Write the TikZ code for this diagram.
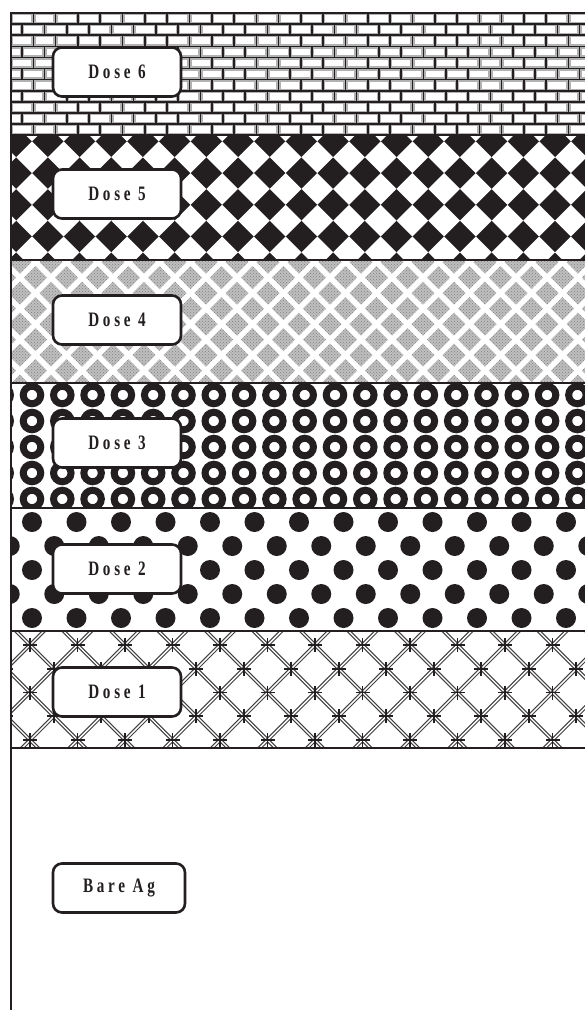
\documentclass[tikz,border=0pt]{standalone}
\usepackage{fontspec}
\usetikzlibrary{patterns}
\setmainfont{Liberation Serif}[FakeStretch=0.74, LetterSpace=18]
\definecolor{ink}{HTML}{231F20}
\tikzset{
  dosebox/.style={draw=ink, line width=2.6pt, rounded corners=9pt, fill=white,
    minimum width=128pt, minimum height=49pt, inner sep=0pt, text=ink,
    font=\fontsize{20.5}{20.5}\selectfont\bfseries},
  bandline/.style={draw=ink, line width=1.5pt}
}
\begin{document}
\begin{tikzpicture}[x=1pt, y=-1pt]
        \useasboundingbox (0,0) rectangle (585,1010);

        % Coordinates
        \coordinate (A) at (11, 13);
        \coordinate (B) at (585, 135);
        \coordinate (C) at (11, 135);
        \coordinate (D) at (585, 260);
        \coordinate (E) at (11, 260);
        \coordinate (F) at (585, 383);
        \coordinate (G) at (11, 383);
        \coordinate (H) at (585, 508);
        \coordinate (I) at (11, 508);
        \coordinate (J) at (585, 631);
        \coordinate (K) at (11, 631);
        \coordinate (L) at (585, 748);
        \coordinate (M) at (11, 1010);

        % Dose 6: bricks
        \begin{scope}
          \clip (A) rectangle (B);
          \fill[ink] (A) rectangle (B);
          \foreach \j [evaluate=\j as \off using {mod(\j,2)*11.15}] in {0,...,10}
            \foreach \i in {-1,...,26}
              \draw[fill=white, draw=gray!60, line width=1.4pt]
                ({11+\off+\i*22.3+1.5},{13+\j*11.1+1.5}) rectangle ++(19.3,8.1);
        \end{scope}

        % Dose 5: checker diamonds
        \begin{scope}
          \clip (C) rectangle (D);
          \fill[ink] (C) rectangle (D);
          \foreach \j in {0,...,4}
            \foreach \i in {0,...,19}
              \fill[white] ({0.3+\i*31.7-15.85},{125.5+\j*31.7})
                -- ++(15.85,-15.85) -- ++(15.85,15.85) -- ++(-15.85,15.85) -- cycle;
        \end{scope}

        % Dose 4: gray tiles
        \begin{scope}
          \clip (E) rectangle (F);
          \fill[white] (E) rectangle (F);
          \foreach \j [evaluate=\j as \off using {mod(\j,2)*15.5}] in {0,...,8}
            \foreach \i in {-1,...,19} {
              \fill[gray!50] ({20+\off+\i*31-11.5},{262+\j*15.5})
                -- ++(11.5,-11.5) -- ++(11.5,11.5) -- ++(-11.5,11.5) -- cycle;
              \fill[pattern=crosshatch dots, pattern color=gray]
                ({20+\off+\i*31-11.5},{262+\j*15.5})
                -- ++(11.5,-11.5) -- ++(11.5,11.5) -- ++(-11.5,11.5) -- cycle;
            }
        \end{scope}

        % Dose 3: rings
        \begin{scope}
          \clip (G) rectangle (H);
          \fill[white] (G) rectangle (H);
          \foreach \j in {0,...,4}
            \foreach \i in {0,...,19}
              \draw[ink, line width=7pt] ({1.7+\i*30.3},{395+\j*26})
                circle[radius=8.75pt];
        \end{scope}

        % Dose 2: dots
        \begin{scope}
          \clip (I) rectangle (J);
          \fill[white] (I) rectangle (J);
          \foreach \j [evaluate=\j as \off using {mod(\j+1,2)*22.25}] in {0,...,6}
            \foreach \i in {0,...,14}
              \fill[ink] ({32-44.5+\off+\i*44.5},{498+\j*24}) circle[radius=10pt];
        \end{scope}

        % Dose 1: crossed lines
        \begin{scope}
          \clip (K) rectangle (L);
          \fill[white] (K) rectangle (L);
          \foreach \j [evaluate=\j as \off using {mod(\j,2)*23.75}] in {-1,...,5}
            \foreach \i in {-1,...,12} {
              \draw[ink!85, line width=1.2pt, double=white, double distance=1.4pt]
                ({30+\off+\i*47.5},{645+\j*23.75}) -- ++(23.75,23.75)
                ({30+\off+\i*47.5},{645+\j*23.75}) -- ++(-23.75,23.75);
              \draw[ink, line width=1.6pt]
                ({30+\off+\i*47.5-7},{645+\j*23.75}) -- ++(14,0)
                ({30+\off+\i*47.5},{645+\j*23.75-7}) -- ++(0,14);
            }
        \end{scope}

        % Drawing
        \draw[bandline] (C) -- (585,135);
        \draw[bandline] (E) -- (585,260);
        \draw[bandline] (G) -- (585,383);
        \draw[bandline] (I) -- (585,508);
        \draw[bandline] (K) -- (585,631);
        \draw[bandline] (11,748) -- (L);
        \draw[ink, line width=2.5pt] (10,13) -- (585,13);
        \draw[ink, line width=2.5pt] (A) -- (M);

        % Labels
        \node[dosebox] (dose6) at (117,72) {Dose 6};
        \node[dosebox] (dose5) at (117,194) {Dose 5};
        \node[dosebox] (dose4) at (117,320) {Dose 4};
        \node[dosebox] (dose3) at (117,443) {Dose 3};
        \node[dosebox] (dose2) at (117,569) {Dose 2};
        \node[dosebox] (dose1) at (117,692) {Dose 1};
        \node[dosebox, minimum width=132pt] (bare) at (119,888) {Bare Ag};
\end{tikzpicture}
\end{document}
